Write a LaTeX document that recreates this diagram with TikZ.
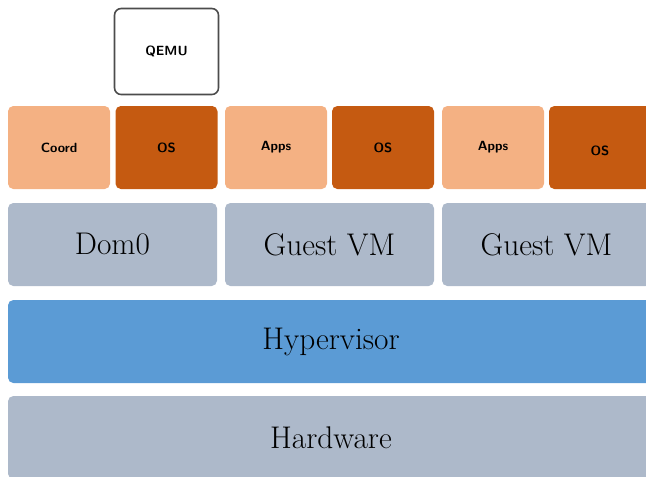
\documentclass[tikz,border=0pt]{standalone}
\definecolor{appcol}{HTML}{F4B183}
\definecolor{oscol}{HTML}{C55A11}
\definecolor{vmcol}{HTML}{ADB9CA}
\definecolor{hypcol}{HTML}{5B9BD5}
\tikzset{
  layer/.style={rounded corners=4pt, inner sep=0pt, font=\fontsize{23.5}{28}\selectfont},
  part/.style={rounded corners=4pt, inner sep=0pt, minimum width=76.5pt, minimum height=62.25pt, font=\sffamily\bfseries\fontsize{10}{12}\selectfont},
}
\begin{document}
\begin{tikzpicture}[x=0.75pt,y=-0.75pt, line join=round]
	\useasboundingbox (0,0) rectangle (646,476);
	\clip (0,0) rectangle (646,476);
	%\draw[gray!30] (0,0) grid[step=50] (646,476);
	\node[draw=black!70, line width=1.2pt, fill=white, rounded corners=5pt, inner sep=0pt, minimum width=78pt, minimum height=64.5pt, font=\sffamily\bfseries\fontsize{10}{12}\selectfont] (qemu) at (166.5,51.5) {QEMU};
	% domain parts
	\foreach \n/\x/\c/\t in {coord/59/appcol/Coord, os0/166.5/oscol/OS, apps1/276/appcol/Apps, os1/383/oscol/OS, apps2/493/appcol/Apps}
	\node[part, fill=\c] (\n) at (\x,147.5) {\t};
	\node[part, fill=oscol, text height=12pt] (os2) at (600,147.5) {OS};
	% domains
	\foreach \n/\x/\t in {dom0/112.5/Dom0, vm1/329.5/Guest VM, vm2/546.5/Guest VM}
	\node[layer, fill=vmcol, minimum width=156.75pt, minimum height=62.25pt] (\n) at (\x,244.5) {\t};
	\node[layer, fill=hypcol, minimum width=484.5pt, minimum height=62.25pt] (hyp) at (331,341.5) {Hypervisor};
	\node[layer, fill=vmcol, minimum width=484.5pt, minimum height=62.25pt] (hw) at (331,437.5) {Hardware};
\end{tikzpicture}
\end{document}
